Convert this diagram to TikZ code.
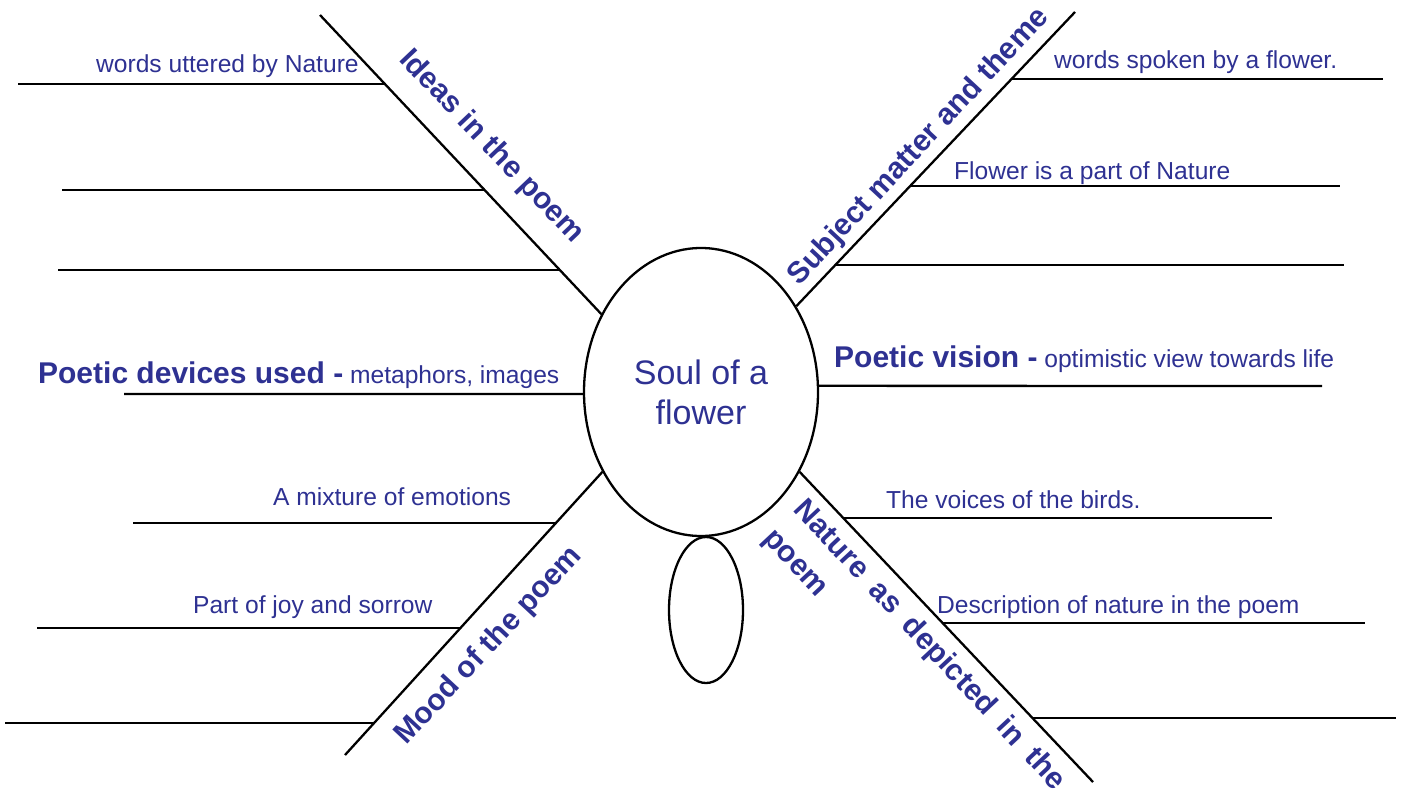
\documentclass[tikz,border=0pt]{standalone}
\usepackage{fontspec}
\setmainfont{Liberation Sans}
\usetikzlibrary{shapes.geometric}
\definecolor{ink}{HTML}{2E3192}
\newcommand{\widespaces}{\spaceskip=0.5em\relax}

\begin{document}
\begin{tikzpicture}[x=1pt, y=-1pt, line width=2.3pt,
		txt/.style={anchor=base west, inner sep=0, text=ink, font=\fontsize{24.6}{29}\selectfont},
		head/.style={inner sep=0, text=ink, font=\fontsize{30}{36}\selectfont\bfseries}]
				\useasboundingbox (0,0) rectangle (1404,800);
				
				% Центральный овал и нижний овал
				\node[ellipse, draw, minimum width=234, minimum height=288, inner sep=0, align=center, text=ink, font=\fontsize{34}{40}\selectfont] (soul) at (701,392) {Soul of a\\flower};
				\node[ellipse, draw, minimum width=74, minimum height=146, inner sep=0] (stem) at (706,610) {};
				
				% Концы лучей
				\coordinate (ideasEnd) at (320,15);
				\coordinate (themeEnd) at (1075,12);
				\coordinate (moodEnd) at (345,755);
				\coordinate (natureEnd) at (1093,782);
				\coordinate (devicesEnd) at (124,394);
				\coordinate (visionEnd) at (1322,386);
				
				% Лучи от овала
				\draw (ideasEnd) -- (soul.142);
				\draw (themeEnd) -- (soul.42);
				\draw (moodEnd) -- (soul.219);
				\draw (natureEnd) -- (soul.321);
				\draw (devicesEnd) -- (soul.181);
				\draw (visionEnd) -- (soul.3);
				
				% Ветки слева сверху
				\draw[line width=2.5pt] (18,84) -- (385,84);
				\draw[line width=2.5pt] (62,190) -- (485,190);
				\draw[line width=2.5pt] (58,270) -- (560,270);
				
				% Ветки справа сверху
				\draw[line width=2.5pt] (1012,79) -- (1383,79);
				\draw[line width=2.5pt] (911,186) -- (1340,186);
				\draw[line width=2.5pt] (836,265) -- (1344,265);
				
				% Ветки слева снизу
				\draw[line width=2.5pt] (133,523) -- (556,523);
				\draw[line width=2.5pt] (37,628) -- (460,628);
				\draw[line width=2.5pt] (5,723) -- (374,723);
				
				% Ветки справа снизу
				\draw[line width=2.5pt] (843,518) -- (1272,518);
				\draw[line width=2.5pt] (943,623) -- (1365,623);
				\draw[line width=2.5pt] (1032,718) -- (1396,718);
				
				% Подписи на лучах
				\node[head, rotate=-46.5] (ideas) at (491,147) {Ideas in the poem};
				\node[head, rotate=47] (theme) at (919,147) {Subject matter and theme};
				\node[head, rotate=47] (mood) at (489,646) {Mood of the poem};
				\node[head, rotate=-47, align=left, font={\fontsize{30}{41.6}\selectfont\bfseries\widespaces}] (nature) at (914,660) {Nature as depicted in the\\poem};
				
				% Подписи на ветках
				\node[txt] (uttered) at (95,72) {words uttered by Nature};
				\node[txt] (spoken) at (1053,68) {words spoken by a flower.};
				\node[txt] (part) at (953,179) {Flower is a part of Nature};
				\node[txt] (devices) at (37,383) {{\bfseries\fontsize{30}{36}\selectfont Poetic devices used -} metaphors, images};
				\node[txt] (vision) at (833,367) {{\bfseries\fontsize{30}{36}\selectfont Poetic vision -} optimistic view towards life};
				\node[txt] (mixture) at (272,505) {A mixture of emotions};
				\node[txt] (joy) at (192,613) {Part of joy and sorrow};
				\node[txt] (voices) at (885,508) {The voices of the birds.};
				\node[txt] (description) at (936,613) {Description of nature in the poem};
			\end{tikzpicture}
\end{document}
